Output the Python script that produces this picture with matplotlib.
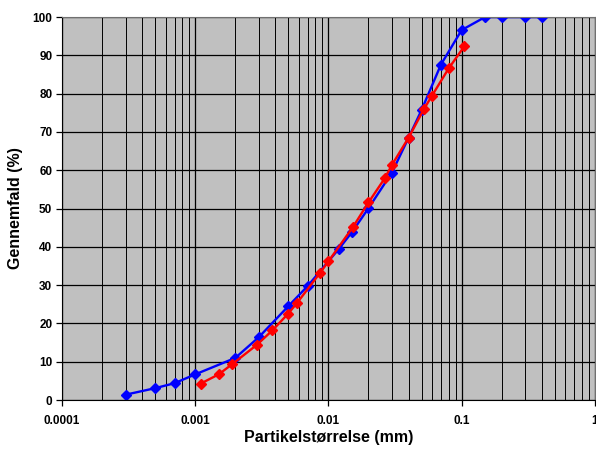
import numpy as np
import matplotlib.pyplot as plt
from matplotlib.ticker import LogLocator, FixedLocator, NullFormatter

# Blue series (particle size mm, passing %)
blue_x = [0.0003, 0.0005, 0.0007, 0.001, 0.002, 0.003, 0.005, 0.007, 0.012, 0.015,
          0.02, 0.03, 0.04, 0.05, 0.07, 0.1, 0.15, 0.2, 0.3, 0.4]
blue_y = [1.4, 3.1, 4.4, 6.7, 11.0, 16.4, 24.5, 29.8, 39.5, 43.8,
          50.1, 59.4, 68.5, 75.7, 87.6, 96.6, 100, 100, 100, 100]

# Red series
red_x = [0.0011, 0.0015, 0.0019, 0.0029, 0.0038, 0.005, 0.0058, 0.0087, 0.01, 0.0153,
         0.02, 0.0265, 0.03, 0.04, 0.052, 0.06, 0.08, 0.105]
red_y = [4.3, 6.7, 9.4, 14.4, 18.2, 22.6, 25.3, 33.3, 36.2, 45.2,
         51.6, 57.9, 61.4, 68.5, 75.9, 79.5, 86.6, 92.4]

x_ticks = [0.0001, 0.001, 0.01, 0.1, 1]
x_labels = ['0.0001', '0.001', '0.01', '0.1', '1']
y_ticks = list(range(0, 101, 10))

plt.rcParams['font.family'] = ['Liberation Sans', 'DejaVu Sans']
plt.rcParams['font.weight'] = 'bold'

fig = plt.figure(figsize=(5.96, 4.49), dpi=100)
ax = fig.add_axes([0.104, 0.109, 0.894, 0.853])
ax.set_facecolor('#C0C0C0')

ax.set_xscale('log')
ax.set_xlim(0.0001, 1)
ax.set_ylim(0, 100)

ax.xaxis.set_major_locator(FixedLocator(x_ticks))
ax.set_xticklabels(x_labels)
ax.xaxis.set_minor_locator(LogLocator(base=10, subs=np.arange(2, 10)))
ax.xaxis.set_minor_formatter(NullFormatter())
ax.set_yticks(y_ticks)

ax.grid(True, which='major', axis='both', color='black', lw=0.9)
ax.grid(True, which='minor', axis='x', color='black', lw=0.7)
ax.set_axisbelow(True)

ax.tick_params(axis='both', which='major', labelsize=8.5, length=4, width=0.9, direction='out', pad=3)
ax.tick_params(axis='x', which='minor', length=0)
ax.tick_params(axis='x', which='major', pad=7)

for s in ['top', 'right']:
    ax.spines[s].set_color('#707070')
for s in ['left', 'bottom']:
    ax.spines[s].set_color('black')

ax.plot(blue_x, blue_y, '-D', color='#0000FF', lw=1.7, markersize=5)
ax.plot(red_x, red_y, '-D', color='#FF0000', lw=1.7, markersize=5)

ax.set_xlabel('Partikelstørrelse (mm)', fontsize=11.5, fontweight='bold', labelpad=2)
ax.set_ylabel('Gennemfald (%)', fontsize=11.5, fontweight='bold', labelpad=7)

fig.savefig('out.png', dpi=100)
